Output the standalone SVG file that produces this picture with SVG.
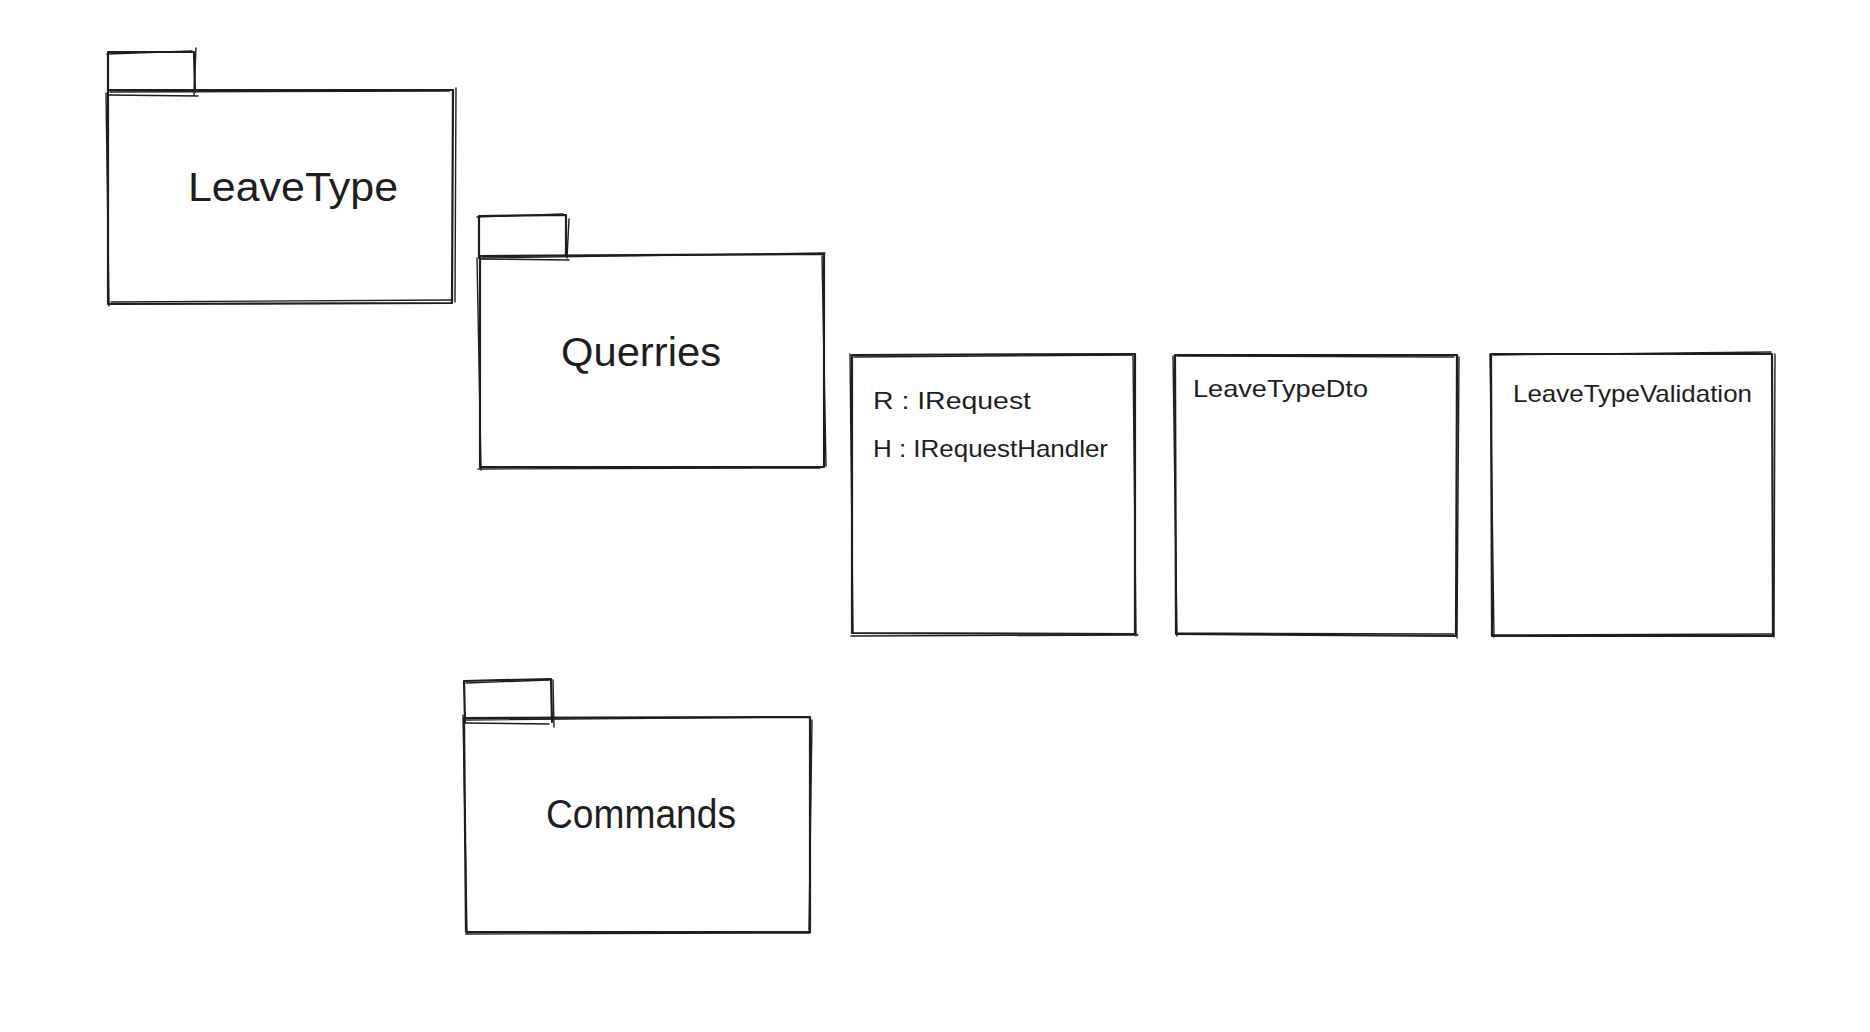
<svg xmlns="http://www.w3.org/2000/svg" width="1870" height="1032" viewBox="0 0 1870 1032">
<style>
.s{fill:none;stroke:#1e1e1e;stroke-width:2.2;stroke-linecap:round;stroke-linejoin:round}
.s2{fill:none;stroke:#1e1e1e;stroke-width:1.4;stroke-linecap:round}
.big{font-family:"Liberation Sans",Arial,sans-serif;font-size:40px;fill:#1e1e1e;text-anchor:middle}
.sm{font-family:"Liberation Sans",Arial,sans-serif;font-size:24px;fill:#1e1e1e}
</style>
<rect width="1870" height="1032" fill="#ffffff"/>
<g id="connectors"/>
<g id="leavetype">
<path class="s" d="M108 52 L194 52 L195 92 M108 53 L108 92"/>
<path class="s2" d="M107 54 L192 51 M196 48 L194 95 M108 95 L198 96"/>
<path class="s" d="M108 90 L453 90 L452 303 L108 304 Z"/>
<path class="s2" d="M110 92 L449 91 M456 88 L455 302 M111 302 L452 300 M106 93 L109 306"/>
<text class="big" x="293" y="201" textLength="210" lengthAdjust="spacingAndGlyphs">LeaveType</text>
</g>
<g id="querries">
<path class="s" d="M479 216 L566 215 L566 256 M479 216 L479 258"/>
<path class="s2" d="M477 217 L563 214 M569 219 L567 258 M480 259 L569 260"/>
<path class="s" d="M480 256 L824 254 L824 467 L480 467 Z"/>
<path class="s2" d="M482 258 L825 253 M822 256 L826 466 M478 469 L820 468 M477 258 L481 470"/>
<text class="big" x="641" y="366" textLength="160" lengthAdjust="spacingAndGlyphs">Querries</text>
</g>
<g id="request">
<path class="s" d="M852 355 L1135 354 L1135 634 L852 633 Z"/>
<path class="s2" d="M854 357 L1132 355 M1133 356 L1136 636 M851 636 L1138 635 M850 354 L853 632"/>
<text class="sm" x="873" y="409" textLength="158" lengthAdjust="spacingAndGlyphs">R : IRequest</text>
<text class="sm" x="873" y="457" textLength="235" lengthAdjust="spacingAndGlyphs">H : IRequestHandler</text>
</g>
<g id="leavetypedto">
<path class="s" d="M1175 355 L1457 355 L1456 636 L1176 634 Z"/>
<path class="s2" d="M1177 356 L1454 357 M1459 357 L1457 638 M1177 633 L1454 634 M1173 356 L1177 636"/>
<text class="sm" x="1193" y="397" textLength="175" lengthAdjust="spacingAndGlyphs">LeaveTypeDto</text>
</g>
<g id="leavetypevalidation">
<path class="s" d="M1491 354 L1772 354 L1773 636 L1492 636 Z"/>
<path class="s2" d="M1493 355 L1771 352 M1775 354 L1774 637 M1493 635 L1773 634 M1490 354 L1494 637"/>
<text class="sm" x="1513" y="402" textLength="239" lengthAdjust="spacingAndGlyphs">LeaveTypeValidation</text>
</g>
<g id="commands">
<path class="s" d="M464 681 L551 679 L552 722 M464 681 L465 722"/>
<path class="s2" d="M466 683 L549 680 M553 680 L554 727 M465 723 L549 724"/>
<path class="s" d="M464 718 L810 717 L810 932 L466 932 Z"/>
<path class="s2" d="M466 720 L808 717 M812 720 L809 930 M466 934 L810 933 M463 715 L467 934"/>
<text class="big" x="641" y="828" textLength="190" lengthAdjust="spacingAndGlyphs">Commands</text>
</g>
</svg>
